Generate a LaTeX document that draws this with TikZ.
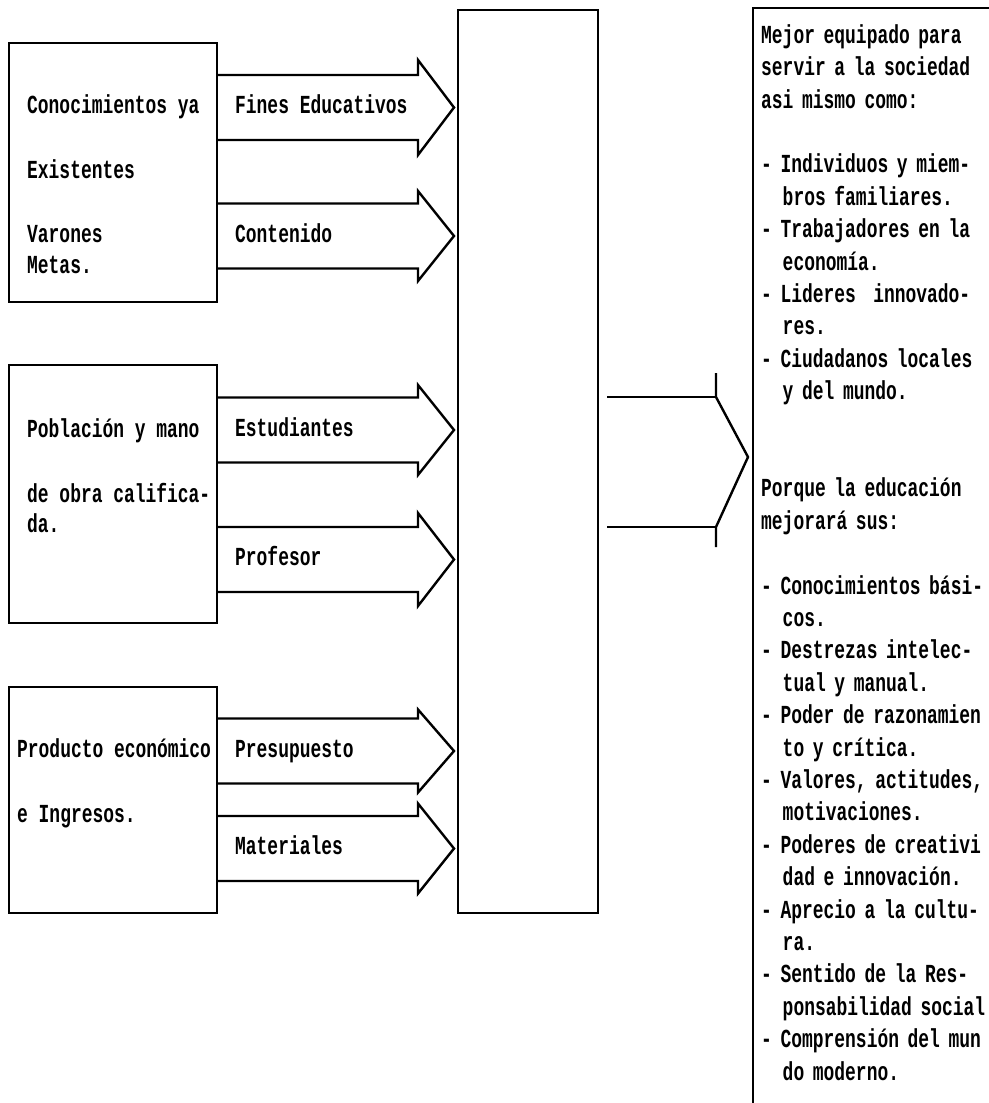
\documentclass[tikz,border=0pt]{standalone}
\usepackage{fontspec}
\newfontfamily\letra{Liberation Mono}[FakeStretch=0.69]

\tikzset{
  caja/.style={draw, line width=2.6pt, inner sep=0pt, outer sep=0pt},
  flechas/.style={line width=2.4pt, line join=miter},
  texto/.style={font=\letra\bfseries\fontsize{26}{31}\selectfont, anchor=base west, inner sep=0pt},
}
% flecha ancha: nombre, caja de origen, centro, media altura de la punta, texto
\newcommand{\flecha}[5]{%
  \draw[flechas] (#2.east |- 0,{#3-32.5}) -- (418,{#3-32.5}) -- (418,{#3-#4}) -- (454,#3)
     -- (418,{#3+#4}) -- (418,{#3+32.5}) -- (#2.east |- 0,{#3+32.5});
  \node[texto] (#1) at (235,{#3+6}) {#5};
}
\newcommand{\sangria}{\hphantom{xx}}

\begin{document}
\begin{tikzpicture}[x=1pt,y=-1pt]
  \useasboundingbox (0,0) rectangle (988,1103);

  \node[caja, minimum width=208pt, minimum height=259pt] (conoc) at (113,172.5) {};
  \node[caja, minimum width=208pt, minimum height=258pt] (pobla) at (113,494) {};
  \node[caja, minimum width=208pt, minimum height=226pt] (produ) at (113,800) {};
  \node[caja, minimum width=140pt, minimum height=903pt] (proceso) at (528,461.5) {};
  \node[caja, minimum width=247pt, minimum height=1107pt] (salida) at (876.5,561.5) {};

  \node[texto] (t1) at (27,113) {Conocimientos ya};
  \node[texto] (t2) at (27,178) {Existentes};
  \node[texto] (t3) at (27,242) {Varones};
  \node[texto] (t4) at (27,273) {Metas.};
  \node[texto] (t5) at (27,437) {Población y mano};
  \node[texto] (t6) at (27,502) {de obra califica-};
  \node[texto] (t7) at (27,532) {da.};
  \node[texto] (t8) at (17,757) {Producto económico};
  \node[texto] (t9) at (17,822) {e Ingresos.};

  \flecha{fines}{conoc}{107.5}{47.5}{Fines Educativos}
  \flecha{conte}{conoc}{236}{45}{Contenido}
  \flecha{estud}{pobla}{430}{45}{Estudiantes}
  \flecha{profe}{pobla}{559.5}{46.5}{Profesor}
  \flecha{presu}{produ}{751}{41.5}{Presupuesto}
  \flecha{mater}{produ}{848.5}{45}{Materiales}

  \draw[flechas] ([xshift=9pt]proceso.east |- 0,397) -- (716,397);
  \draw[flechas] ([xshift=9pt]proceso.east |- 0,527) -- (716,527);
  \draw[flechas] (716,373) -- (716,397) -- (748,457) -- (716,527) -- (716,547);

  \node[texto, font=\letra\bfseries\fontsize{26}{32.4}\selectfont, text width=300pt, align=left, anchor=north west] (mejor) at (761,23) {%
    \rule{0pt}{20pt}Mejor equipado para\\
    servir a la sociedad\\
    asi mismo como:\\[32.4pt]
    - Individuos y miem-\\
    \sangria bros familiares.\\
    - Trabajadores en la\\
    \sangria economía.\\
    - Lideres\ \ innovado-\\
    \sangria res.\\
    - Ciudadanos locales\\
    \sangria y del mundo.\\[64.8pt]
    Porque la educación\\
    mejorará sus:\\[32.4pt]
    - Conocimientos bási-\\
    \sangria cos.\\
    - Destrezas intelec-\\
    \sangria tual y manual.\\
    - Poder de razonamien\\
    \sangria to y crítica.\\
    - Valores, actitudes,\\
    \sangria motivaciones.\\
    - Poderes de creativi\\
    \sangria dad e innovación.\\
    - Aprecio a la cultu-\\
    \sangria ra.\\
    - Sentido de la Res-\\
    \sangria ponsabilidad social\\
    - Comprensión del mun\\
    \sangria do moderno.};
\end{tikzpicture}
\end{document}
